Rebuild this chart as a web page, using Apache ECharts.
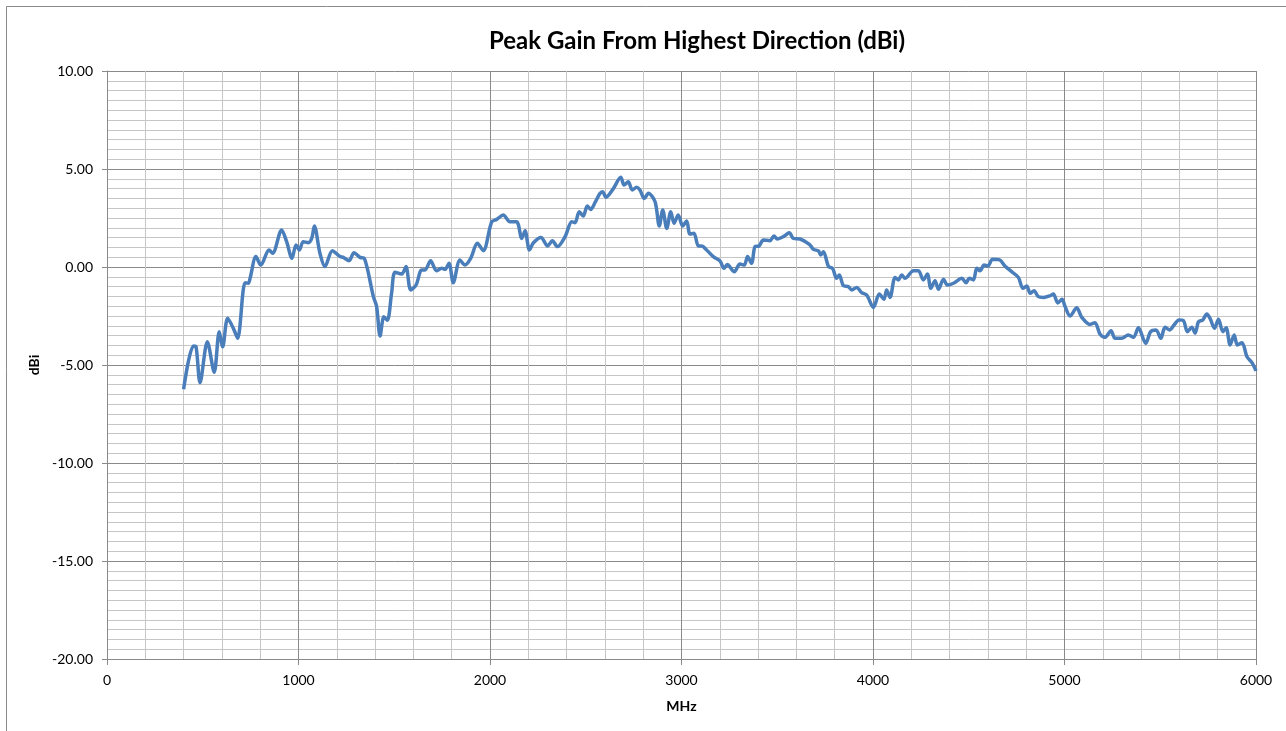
<!DOCTYPE html>
<html>
<head>
<meta charset="utf-8">
<title>Peak Gain From Highest Direction</title>
<script src="https://cdn.jsdelivr.net/npm/echarts@6/dist/echarts.min.js"></script>
<style>
    html, body { margin: 0; padding: 0; background: #fff; }
    #chart { width: 1286px; height: 731px; }
</style>
</head>
<body>
<div id="chart"></div>
<script>
    // 频率 (MHz)
    var freqs = [
        400, 451, 465, 486, 524, 560, 586, 604, 630, 660, 682, 721, 738, 747, 778, 803, 846, 865, 912, 938,
        966, 987, 1004, 1025, 1051, 1069, 1083, 1112, 1138, 1177, 1217, 1234, 1264, 1290, 1321, 1344, 1391, 1408, 1426, 1446,
        1464, 1486, 1504, 1539, 1561, 1586, 1614, 1643, 1661, 1690, 1721, 1748, 1765, 1786, 1808, 1843, 1869, 1899, 1934, 1965,
        2009, 2035, 2069, 2104, 2139, 2166, 2183, 2206, 2227, 2266, 2301, 2326, 2352, 2392, 2427, 2444, 2466, 2487, 2508, 2526,
        2548, 2574, 2588, 2606, 2644, 2683, 2700, 2722, 2743, 2766, 2783, 2806, 2827, 2862, 2884, 2902, 2923, 2944, 2961, 2983,
        3006, 3027, 3044, 3065, 3088, 3105, 3131, 3166, 3201, 3222, 3239, 3276, 3305, 3328, 3345, 3366, 3384, 3405, 3427, 3462,
        3483, 3500, 3532, 3563, 3584, 3619, 3668, 3689, 3715, 3727, 3741, 3768, 3789, 3810, 3824, 3845, 3871, 3889, 3915, 3941,
        3967, 4002, 4033, 4057, 4071, 4089, 4115, 4132, 4150, 4167, 4211, 4237, 4263, 4284, 4302, 4324, 4342, 4368, 4389, 4420,
        4464, 4486, 4503, 4524, 4542, 4559, 4580, 4600, 4624, 4661, 4689, 4724, 4759, 4783, 4803, 4821, 4841, 4863, 4890, 4924,
        4942, 4965, 4987, 5003, 5029, 5064, 5090, 5133, 5159, 5185, 5211, 5243, 5264, 5299, 5333, 5360, 5386, 5424, 5450, 5478,
        5503, 5525, 5548, 5572, 5598, 5621, 5642, 5665, 5682, 5700, 5722, 5743, 5760, 5783, 5804, 5827, 5844, 5865, 5886, 5903,
        5927, 5953, 5979, 6000
    ];

    // 峰值增益 (dBi)
    var gains = [
        -6.24, -4.03, -4.07, -5.90, -3.81, -5.37, -3.30, -4.07, -2.62, -3.13, -3.64, -0.80, -0.83, -0.58, 0.53, 0.10, 0.87, 0.70, 1.89, 1.29,
        0.44, 1.12, 0.87, 1.29, 1.24, 1.46, 2.09, 0.70, 0.02, 0.83, 0.53, 0.49, 0.32, 0.73, 0.49, 0.44, -1.51, -2.02, -3.52, -2.54,
        -2.72, -1.34, -0.27, -0.36, 0.02, -1.17, -0.92, -0.15, -0.15, 0.32, -0.19, -0.07, -0.12, 0.19, -0.80, 0.36, 0.10, 0.44, 1.21, 0.83,
        2.31, 2.43, 2.65, 2.31, 2.31, 1.46, 1.85, 0.87, 1.24, 1.51, 1.07, 1.34, 1.04, 1.55, 2.31, 2.26, 2.82, 2.60, 3.11, 2.94,
        3.28, 3.75, 3.84, 3.56, 4.00, 4.58, 4.18, 4.35, 3.93, 4.07, 3.93, 3.50, 3.76, 3.33, 2.09, 2.91, 1.97, 2.82, 2.23, 2.65,
        2.09, 2.35, 1.68, 1.72, 1.07, 1.07, 0.87, 0.53, 0.31, -0.07, 0.13, -0.24, 0.15, 0.10, 0.53, 0.19, 1.04, 1.07, 1.38, 1.34,
        1.58, 1.43, 1.55, 1.75, 1.46, 1.43, 1.16, 0.90, 0.82, 0.61, 0.78, 0.02, -0.07, -0.58, -0.41, -0.95, -1.00, -1.17, -1.04, -1.31,
        -1.43, -2.06, -1.38, -1.65, -1.17, -1.55, -0.53, -0.66, -0.41, -0.58, -0.19, -0.19, -0.66, -0.36, -1.09, -0.70, -1.14, -0.63, -0.92, -0.83,
        -0.58, -0.80, -0.58, -0.66, -0.07, -0.19, 0.10, 0.05, 0.39, 0.36, 0.05, -0.24, -0.53, -1.09, -0.97, -1.34, -1.21, -1.51, -1.55, -1.47,
        -1.38, -1.84, -1.65, -2.02, -2.50, -2.08, -2.57, -2.93, -2.84, -3.42, -3.59, -3.25, -3.64, -3.64, -3.47, -3.59, -3.10, -3.89, -3.30, -3.21,
        -3.64, -3.08, -3.21, -2.96, -2.70, -2.74, -3.30, -3.08, -3.38, -2.79, -2.70, -2.40, -2.62, -3.13, -2.67, -3.30, -3.10, -3.98, -3.47, -3.98,
        -3.86, -4.58, -4.88, -5.30
    ];

    var chartTitle = 'Peak Gain From Highest Direction (dBi)';
    var xName = 'MHz';
    var yName = 'dBi';

    var seriesData = freqs.map(function(f, i) {
        return [f, gains[i]];
    });

    var fontFamily = 'Lato, "Open Sans", sans-serif';
    var majorGrid = '#8a8a8a';
    var minorGrid = '#c6c6c6';

    var myChart = echarts.init(document.getElementById('chart'), null, { renderer: 'canvas' });

    var option = {
        backgroundColor: '#fff',
        animation: false,
        textStyle: { fontFamily: fontFamily },
        title: {
            text: chartTitle,
            left: 692,
            top: 24,
            textAlign: 'center',
            textStyle: {
                fontFamily: fontFamily,
                fontSize: 24,
                fontWeight: 'bold',
                color: '#000'
            }
        },
        // 图表外框
        graphic: [{
            type: 'rect',
            shape: { x: 6.5, y: 6.5, width: 1400, height: 900 },
            style: { fill: 'none', stroke: '#8a8a8a', lineWidth: 1 },
            silent: true
        }],
        grid: {
            left: 107,
            right: 30,
            top: 71,
            bottom: 72
        },
        xAxis: {
            type: 'value',
            min: 0,
            max: 6000,
            interval: 1000,
            name: xName,
            nameLocation: 'middle',
            nameGap: 40,
            nameTextStyle: { fontFamily: fontFamily, fontSize: 14, fontWeight: 'bold', color: '#000' },
            axisLine: { show: true, onZero: false, lineStyle: { color: majorGrid, width: 1 } },
            axisTick: { show: true, length: 6, lineStyle: { color: majorGrid } },
            axisLabel: {
                fontFamily: fontFamily,
                fontSize: 14,
                color: '#000',
                margin: 14,
                formatter: function(v) { return String(v); }
            },
            splitLine: { show: true, lineStyle: { color: majorGrid, width: 1 } },
            minorTick: { show: false, splitNumber: 5 },
            minorSplitLine: { show: true, lineStyle: { color: minorGrid, width: 1 } }
        },
        yAxis: {
            type: 'value',
            min: -20,
            max: 10,
            interval: 5,
            name: yName,
            nameLocation: 'middle',
            nameGap: 64,
            nameRotate: 90,
            nameTextStyle: { fontFamily: fontFamily, fontSize: 14, fontWeight: 'bold', color: '#000' },
            axisLine: { show: true, lineStyle: { color: majorGrid, width: 1 } },
            axisTick: { show: true, length: 5, lineStyle: { color: majorGrid } },
            axisLabel: {
                fontFamily: fontFamily,
                fontSize: 14,
                color: '#000',
                margin: 14,
                formatter: function(v) { return v.toFixed(2); }
            },
            splitLine: { show: true, lineStyle: { color: majorGrid, width: 1 } },
            minorTick: { show: false, splitNumber: 10 },
            minorSplitLine: { show: true, lineStyle: { color: minorGrid, width: 1 } }
        },
        series: [{
            type: 'line',
            name: chartTitle,
            data: seriesData,
            smooth: 0.3,
            showSymbol: false,
            symbol: 'none',
            lineStyle: { color: '#4a7ebb', width: 3.5 },
            z: 5
        }]
    };

    myChart.setOption(option);
</script>
</body>
</html>
